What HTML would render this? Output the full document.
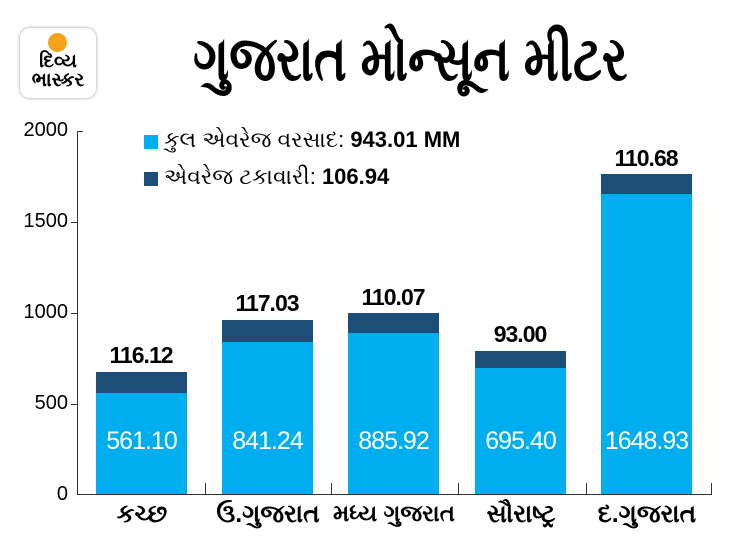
<!DOCTYPE html><html><head><meta charset="utf-8"><style>
body{margin:0;width:730px;height:548px;background:#fff;font-family:"Liberation Sans","Noto Sans CJK SC",sans-serif;position:relative;overflow:hidden}
.a{position:absolute}
.t{font-weight:bold;color:#000}
.bar{position:absolute;width:91px}
.l{background:#00aeef}.d{background:#1d4e78}
.v{position:absolute;width:91px;text-align:center;color:#fff;font-size:25px;letter-spacing:-1px}
.p{position:absolute;width:120px;text-align:center;font-size:23px;font-weight:bold;letter-spacing:-1px}
.y{position:absolute;right:662px;font-size:20px;width:60px;text-align:right}
.c{position:absolute;width:126px;text-align:center;font-size:25px;font-weight:bold;top:500px}
</style></head><body>
<div class="a" style="left:20px;top:28px;width:76px;height:70px;border-radius:10px;box-shadow:0 0 3px #999;background:#fff"></div>
<div class="a" style="left:48px;top:33px;width:19px;height:19px;border-radius:50%;background:#f7a21b"></div>
<div class="a t" style="left:22px;top:52px;width:72px;text-align:center;font-size:19px;line-height:19px;font-family:'Liberation Sans',sans-serif">દિવ્ય<br>ભાસ્કર</div>
<div class="a t" style="left:193px;top:24px;font-size:62px;transform:scaleX(0.8);transform-origin:left top;white-space:nowrap">ગુજરાત મોન્સૂન મીટર</div>
<div class="a" style="left:77px;top:131px;width:1px;height:364px;background:#333"></div>
<div class="a" style="left:77px;top:494px;width:635px;height:1px;background:#333"></div>
<div class="a" style="left:77px;top:131px;width:6px;height:1px;background:#333"></div>
<div class="a" style="left:71px;top:222px;width:6px;height:1px;background:#333"></div>
<div class="a" style="left:71px;top:313px;width:6px;height:1px;background:#333"></div>
<div class="a" style="left:71px;top:404px;width:6px;height:1px;background:#333"></div>
<div class="a" style="left:205px;top:483px;width:1px;height:11px;background:#333"></div>
<div class="a" style="left:331px;top:483px;width:1px;height:11px;background:#333"></div>
<div class="a" style="left:458px;top:483px;width:1px;height:11px;background:#333"></div>
<div class="a" style="left:586px;top:483px;width:1px;height:11px;background:#333"></div>
<div class="a" style="left:711px;top:483px;width:1px;height:11px;background:#333"></div>
<div class="y" style="top:119px">2000</div><div class="y" style="top:210px">1500</div><div class="y" style="top:301px">1000</div><div class="y" style="top:392px">500</div><div class="y" style="top:483px">0</div>
<div class="a" style="left:144px;top:135px;width:14px;height:14px;background:#00aeef"></div>
<div class="a" style="left:164px;top:127px;font-size:22px;white-space:nowrap">કુલ એવરેજ વરસાદ: <b>943.01 MM</b></div>
<div class="a" style="left:144px;top:172px;width:14px;height:14px;background:#1d4e78"></div>
<div class="a" style="left:164px;top:164px;font-size:22px;white-space:nowrap">એવરેજ ટકાવારી: <b>106.94</b></div>
<div class="bar d" style="left:96px;top:372px;height:122px"></div><div class="bar l" style="left:96px;top:393px;height:101px"></div>
<div class="bar d" style="left:222px;top:320px;height:174px"></div><div class="bar l" style="left:222px;top:342px;height:152px"></div>
<div class="bar d" style="left:348px;top:313px;height:181px"></div><div class="bar l" style="left:348px;top:333px;height:161px"></div>
<div class="bar d" style="left:475px;top:351px;height:143px"></div><div class="bar l" style="left:475px;top:368px;height:126px"></div>
<div class="bar d" style="left:601px;top:174px;height:320px"></div><div class="bar l" style="left:601px;top:194px;height:300px"></div>
<div class="v" style="left:96px;top:427px">561.10</div><div class="v" style="left:222px;top:427px">841.24</div><div class="v" style="left:348px;top:427px">885.92</div><div class="v" style="left:475px;top:427px">695.40</div><div class="v" style="left:601px;top:427px">1648.93</div>
<div class="p" style="left:81px;top:342px">116.12</div><div class="p" style="left:207px;top:290px">117.03</div><div class="p" style="left:333px;top:284px">110.07</div><div class="p" style="left:460px;top:321px">93.00</div><div class="p" style="left:586px;top:145px">110.68</div>
<div class="c" style="left:79px">કચ્છ</div><div class="c" style="left:205px">ઉ.ગુજરાત</div><div class="c" style="left:331px;font-size:23px">મધ્ય ગુજરાત</div><div class="c" style="left:458px">સૌરાષ્ટ્ર</div><div class="c" style="left:584px">દ.ગુજરાત</div>
</body></html>
